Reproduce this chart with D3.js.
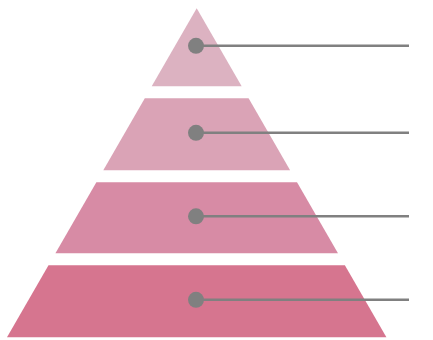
<!DOCTYPE html>
<html>
<head>
<meta charset="utf-8">
<script src="https://cdn.jsdelivr.net/npm/d3@7"></script>
<style>
  html, body { margin: 0; padding: 0; background: #fff; }
  svg { display: block; }
</style>
</head>
<body>
<div id="chart"></div>
<script>
// Pyramid levels, top to bottom
const LEVELS = ["level1", "level2", "level3", "level4"];
const LEVEL_HEIGHTS = [78, 72, 71, 72]; // relative height of each slice
const LEVEL_COLORS = ["#dcb2c1", "#daa3b6", "#d78ba5", "#d6758f"];
const GAP = 12; // white space between slices, same units as heights

const width = 433;
const height = 340;
const apexY = 8.3;
const baseY = 337.3;
const centerX = 196.7;
const baseHalf = 189.7;
const dotX = 196;
const lineEndX = 409;

const svg = d3.select("#chart").append("svg")
  .attr("width", width)
  .attr("height", height)
  .attr("viewBox", [0, 0, width, height]);

// Stack slices: cumulative start/end in value units
let acc = 0;
const slices = LEVELS.map((name, i) => {
  const s = acc;
  const e = s + LEVEL_HEIGHTS[i];
  acc = e + GAP;
  return { name, start: s, end: e, color: LEVEL_COLORS[i] };
});
const total = acc - GAP;

const yScale = d3.scaleLinear().domain([0, total]).range([apexY, baseY]);
// half width of the pyramid at a given pixel y
const halfW = d3.scaleLinear().domain([apexY, baseY]).range([0, baseHalf]);

function slicePath(d) {
  const y0 = yScale(d.start), y1 = yScale(d.end);
  const w0 = halfW(y0), w1 = halfW(y1);
  const p = d3.path();
  p.moveTo(centerX - w0, y0);
  p.lineTo(centerX + w0, y0);
  p.lineTo(centerX + w1, y1);
  p.lineTo(centerX - w1, y1);
  p.closePath();
  return p.toString();
}

svg.append("g").selectAll("path")
  .data(slices)
  .join("path")
  .attr("d", slicePath)
  .attr("fill", d => d.color);

const marker = svg.append("g").selectAll("g")
  .data(slices)
  .join("g")
  .attr("transform", d => `translate(0,${(yScale(d.start) + yScale(d.end)) / 2 - 1.5})`);

marker.append("line")
  .attr("x1", dotX)
  .attr("x2", lineEndX)
  .attr("y1", 0)
  .attr("y2", 0)
  .attr("stroke", "#808080")
  .attr("stroke-width", 2.5);

marker.append("circle")
  .attr("cx", dotX)
  .attr("cy", 0)
  .attr("r", 8)
  .attr("fill", "#808080");
</script>
</body>
</html>
